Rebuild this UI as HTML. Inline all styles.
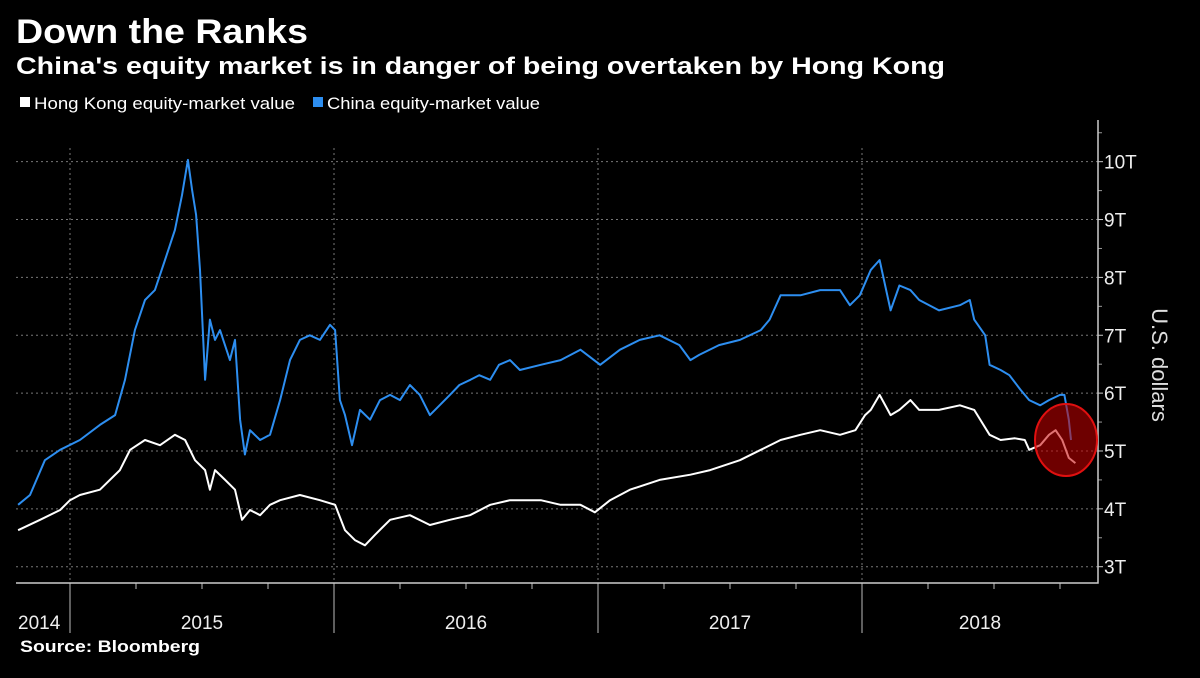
<!DOCTYPE html>
<html><head><meta charset="utf-8"><style>
body{margin:0;background:#000;width:1200px;height:673px;overflow:hidden;font-family:"Liberation Sans",sans-serif;color:#fff}
</style></head><body>
<svg width="1200" height="673" viewBox="0 0 1200 673" id="svg">
<rect width="1200" height="673" fill="#000"/>
<text x="16" y="43" font-size="34" font-weight="bold" fill="#fff" textLength="292" lengthAdjust="spacingAndGlyphs">Down the Ranks</text>
<text x="16" y="74" font-size="24" font-weight="bold" fill="#fff" textLength="929" lengthAdjust="spacingAndGlyphs">China's equity market is in danger of being overtaken by Hong Kong</text>
<g>
<rect x="20" y="97" width="10" height="10" fill="#fff"/>
<text x="34" y="109" font-size="17" fill="#fff" textLength="261" lengthAdjust="spacingAndGlyphs">Hong Kong equity-market value</text>
<rect x="313" y="97" width="10" height="10" fill="#2d8ef0"/>
<text x="327" y="109" font-size="17" fill="#fff" textLength="213" lengthAdjust="spacingAndGlyphs">China equity-market value</text>
</g>
<g id="grid"></g>
<g id="axes"></g>
<g id="series"></g>
<ellipse cx="1066" cy="440" rx="31" ry="36" fill="rgba(200,0,0,0.55)" stroke="#e01010" stroke-width="2"/>
<text transform="translate(1152,365) rotate(90)" text-anchor="middle" font-size="22" fill="#ddd">U.S. dollars</text>
<text x="20" y="652" font-size="17" font-weight="bold" fill="#fff" textLength="180" lengthAdjust="spacingAndGlyphs">Source: Bloomberg</text>
</svg>
<script>
// months since Jan 2015
const chinaMonths=[-2.36,-1.82,-1.14,-0.45,0.45,1.36,2.05,2.5,2.95,3.41,3.86,4.32,4.77,5.09,5.36,5.55,5.73,5.91,6.14,6.36,6.59,6.82,7.27,7.5,7.73,7.95,8.18,8.64,9.09,9.55,10,10.45,10.9,11.36,11.82,12.05,12.27,12.5,12.82,13.18,13.64,14.09,14.55,15,15.45,15.9,16.36,16.8,17.27,17.7,18.2,18.6,19.1,19.5,20,20.45,21.4,22.3,23.2,24.1,25,25.9,26.8,27.7,28.2,28.6,29.5,30.45,31.4,31.8,32.3,33.2,34.1,35,35.45,35.9,36.4,36.8,37.3,37.7,38.2,38.6,39.5,40.45,40.9,41.1,41.6,41.8,42.3,42.7,43.2,43.6,44.1,44.5,45,45.2,45.4,45.5];
const chinaValues=[4.07,4.24,4.84,5.02,5.19,5.45,5.62,6.23,7.09,7.61,7.78,8.30,8.82,9.42,10.03,9.51,9.08,8.13,6.23,7.27,6.92,7.09,6.57,6.92,5.54,4.94,5.36,5.19,5.28,5.88,6.57,6.92,7.0,6.92,7.18,7.09,5.88,5.62,5.10,5.71,5.54,5.88,5.97,5.88,6.14,5.97,5.62,5.79,5.97,6.14,6.23,6.31,6.23,6.49,6.57,6.40,6.49,6.57,6.75,6.49,6.75,6.92,7.0,6.83,6.57,6.66,6.83,6.92,7.09,7.27,7.69,7.69,7.78,7.78,7.52,7.69,8.13,8.30,7.43,7.86,7.78,7.61,7.43,7.52,7.61,7.27,7.0,6.49,6.40,6.31,6.06,5.88,5.79,5.88,5.97,5.97,5.54,5.19];
const hkMonths=[-2.36,-1.36,-0.45,0,0.45,1.36,2.27,2.73,3.41,4.09,4.77,5.23,5.68,6.14,6.36,6.59,7.05,7.5,7.82,8.18,8.64,9.09,9.55,10.45,11.36,12.05,12.5,12.95,13.41,13.86,14.55,15.45,16.36,17.27,18.18,19.1,20,21.4,22.3,23.2,23.86,24.55,25.45,26.8,28.2,29.1,30.45,31.4,32.3,33.2,34.1,35,35.7,36.14,36.4,36.8,37.3,37.7,38.2,38.6,39.5,40.45,41.1,41.8,42.3,42.95,43.4,43.6,44.1,44.5,44.8,45.1,45.4,45.7];
const hkValues=[3.63,3.81,3.98,4.15,4.24,4.33,4.67,5.02,5.19,5.10,5.28,5.19,4.84,4.67,4.33,4.67,4.50,4.33,3.81,3.98,3.89,4.07,4.15,4.24,4.15,4.07,3.63,3.46,3.37,3.55,3.81,3.89,3.72,3.81,3.89,4.07,4.15,4.15,4.07,4.07,3.94,4.15,4.33,4.50,4.59,4.67,4.84,5.02,5.19,5.28,5.36,5.28,5.36,5.62,5.71,5.97,5.62,5.71,5.88,5.71,5.71,5.79,5.71,5.28,5.19,5.22,5.19,5.02,5.10,5.28,5.36,5.19,4.88,4.79];
const yTicks=[3,4,5,6,7,8,9,10];
const yTickLabels=["3T","4T","5T","6T","7T","8T","9T","10T"];
const years=["2014","2015","2016","2017","2018"];
const yearStartMonths=[-12,0,12,24,36];

const NS="http://www.w3.org/2000/svg";
const X0=16,X1=1098,YB=583;
function xScale(m){return 70+m*22;}
function yScale(v){return 566.7-(v-3)*57.86;}
function mk(tag,attrs,parent){const e=document.createElementNS(NS,tag);for(const k in attrs)e.setAttribute(k,attrs[k]);parent.appendChild(e);return e;}
const grid=document.getElementById('grid'),axes=document.getElementById('axes'),series=document.getElementById('series');
yTicks.forEach((t,i)=>{
  const y=yScale(t);
  const l=mk('line',{x1:X0,x2:X1,y1:y,y2:y,stroke:'#777','stroke-width':1,'stroke-dasharray':'2,3'},grid);
  
  
  const tk=mk('line',{x1:X1,x2:X1+5,y1:y,y2:y,stroke:'#ccc'},axes);
  
  
  const m=mk('line',{x1:X1,x2:X1+4,y1:yScale(t+0.5),y2:yScale(t+0.5),stroke:'#999'},axes);
  
  
  const tx=mk('text',{x:X1+6,y:y+7,'font-size':19,fill:'#eee'},axes);
  tx.textContent=yTickLabels[i];
  
  
});
yearStartMonths.forEach((m,i)=>{
  const x=xScale(m);
  if(i>0){
    const g=mk('line',{x1:x,x2:x,y1:148,y2:YB,stroke:'#777','stroke-dasharray':'2,3'},grid);
    
    
    const t=mk('line',{x1:x,x2:x,y1:YB,y2:633,stroke:'#bbb'},axes);
    
    
    for(let q=3;q<12;q+=3){const qx=xScale(m+q);if(qx<X1){const qt=mk('line',{x1:qx,x2:qx,y1:YB,y2:YB+6,stroke:'#bbb'},axes);
      
      }}
  }
  const lo=Math.max(X0,x),hi=Math.min(X1,xScale(m+12));
  const tx=mk('text',{x:i==0?X0+2:(lo+hi)/2,y:629,'font-size':19,fill:'#eee','text-anchor':i==0?'start':'middle'},axes);
  tx.textContent=years[i];
  
  
});
const ax=mk('path',{d:`M${X0},${YB}H${X1}V120`,stroke:'#ccc',fill:'none','stroke-width':1.5},axes);


function line(ms,vs,color,name){
  const d=ms.map((m,i)=>(i?'L':'M')+xScale(m).toFixed(1)+','+yScale(vs[i]).toFixed(1)).join('');
  const p=mk('path',{d:d,stroke:color,fill:'none','stroke-width':2,'stroke-linejoin':'round'},series);
  
  
}
line(chinaMonths,chinaValues,'#2d8ef0','china-line');
line(hkMonths,hkValues,'#ffffff','hong-kong-line');
</script>
</body></html>
